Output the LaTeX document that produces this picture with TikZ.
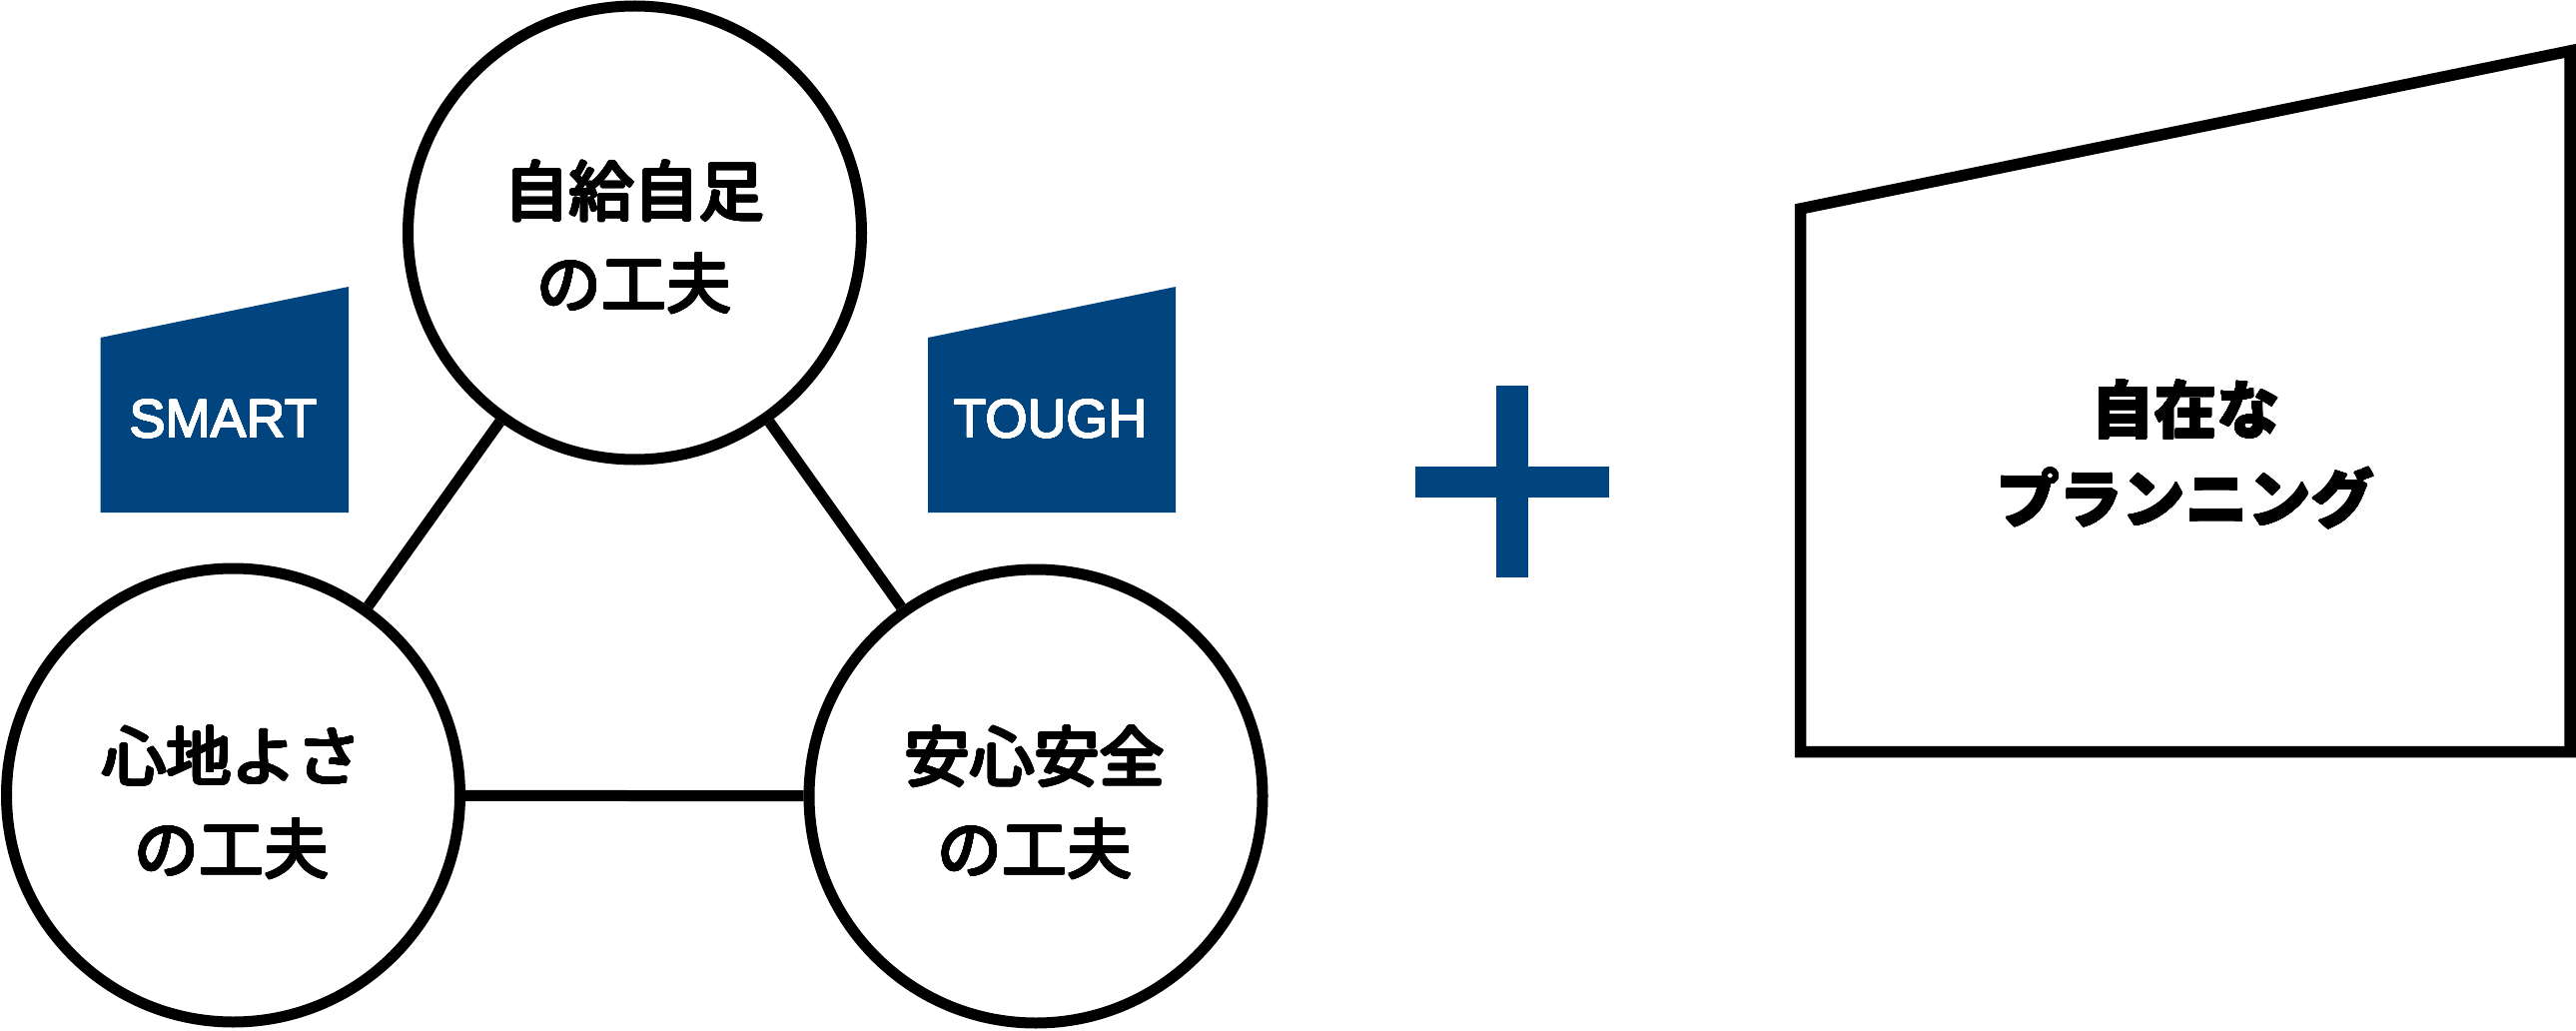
\documentclass[tikz,border=0pt]{standalone}
\usepackage{fontspec}
\usepackage[copies]{contour}
\contournumber{32}
\setmainfont{Liberation Sans}
\newfontfamily\jp{Noto Sans CJK JP}
\newfontfamily\lat{Liberation Sans}
\definecolor{navy}{RGB}{0,68,128}
\newcommand{\embolb}[1]{\contourlength{1.1pt}\contour{black}{#1}}
\newcommand{\embolc}[1]{\contourlength{0.5pt}\contour{black}{#1}}
\newcommand{\embolw}[1]{\contourlength{0.7pt}\contour{white}{#1}}
\begin{document}
\begin{tikzpicture}[x=1pt,y=-1pt,
  ring/.style={circle,draw=black,line width=11pt,fill=white,minimum size=454pt,inner sep=0pt},
  conn/.style={draw=black,line width=11pt},
  ctext/.style={align=center,inner sep=0pt,font=\jp\fontsize{65}{92.5}\selectfont},
  tagtext/.style={anchor=base,inner sep=0pt,text=white,font=\lat\fontsize{54}{60}\selectfont},
  tag/.style={fill=navy,draw=none},
]
\useasboundingbox (0,0) rectangle (2579,1032);
\fill[white] (0,0) rectangle (2579,1032);

% circles
\node[ring] (top) at (635.5,233) {};
\node[ring] (bl) at (233.5,796) {};
\node[ring] (br) at (1037,797) {};

% connectors
\draw[conn] (top) -- (bl);
\draw[conn] (top) -- (br);
\draw[conn] (bl) -- (br);

% circle texts
\node[ctext] (toptxt) at (635,238) {\embolb{自給自足}\\\embolb{の工夫}};
\node[ctext] (bltxt) at (232,804) {\embolb{心地よさ}\\\embolb{の工夫}};
\node[ctext] (brtxt) at (1036,804) {\embolb{安心安全}\\\embolb{の工夫}};

% tags
\path[tag] (100.5,338) -- (349,287) -- (349,513) -- (100.5,513) -- cycle;
\node[tagtext] (smart) at (224,438) {\embolw{SMART}};
\path[tag] (929,338) -- (1177,287) -- (1177,513) -- (929,513) -- cycle;
\node[tagtext] (tough) at (1052,438) {\embolw{TOUGH}};

% plus
\fill[navy] (1498,386) rectangle (1530,578);
\fill[navy] (1417,467) rectangle (1611,498);

% trapezoid
\draw[line width=11.5pt,line join=miter] (1802.5,209) -- (2573,51) -- (2573,752.5) -- (1802.5,752.5) -- cycle;
\node[align=center,inner sep=0pt,font=\jp\bfseries\fontsize{63}{89.5}\selectfont] (plan) at (2188,455) {\embolc{自在な}\\\embolc{プランニング}};
\end{tikzpicture}
\end{document}
